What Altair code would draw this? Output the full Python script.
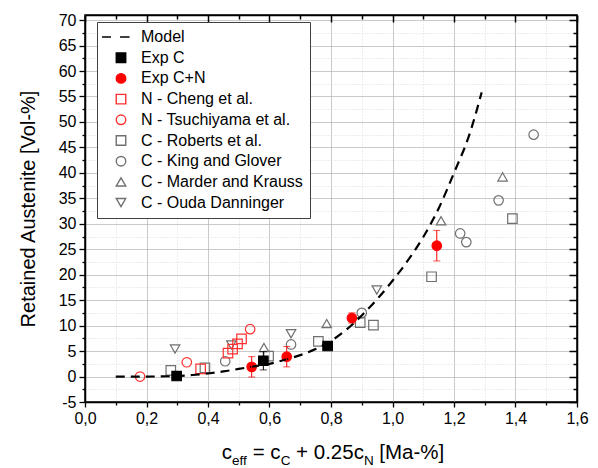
import altair as alt
import pandas as pd

# ---------------- data ----------------
series = ["Model", "Exp C", "Exp C+N", "N - Cheng et al.", "N - Tsuchiyama et al.",
          "C - Roberts et al.", "C - King and Glover", "C - Marder and Krauss",
          "C - Ouda Danninger"]
shape_range = ["M-4,0H-2.1M-0.2,0H1.8", "square", "circle", "square", "circle",
               "square", "circle", "triangle-up", "triangle-down"]
fill_range = ["transparent", "black", "#ff0000", "transparent", "transparent",
              "transparent", "transparent", "transparent", "transparent"]
stroke_range = ["black", "black", "#ff0000", "#ff3030", "#ff3030",
                "#707070", "#707070", "#707070", "#707070"]

model_x = [0.10, 0.20, 0.30, 0.35, 0.40, 0.45, 0.50, 0.55, 0.60, 0.65, 0.70, 0.75,
           0.80, 0.85, 0.90, 0.95, 1.00, 1.05, 1.10, 1.15, 1.20, 1.25, 1.29]
model_y = [0.0, 0.0, 0.1, 0.3, 0.6, 1.0, 1.5, 2.0, 2.5, 3.3, 4.2, 5.4,
           7.0, 9.2, 12.0, 15.2, 18.8, 22.8, 27.4, 33.0, 40.0, 47.5, 55.8]

expc_x = [0.298, 0.580, 0.789]
expc_y = [0.1, 3.1, 6.0]
expc_err = [0.3, 1.8, 0.4]

expcn_x = [0.542, 0.656, 0.868, 1.144]
expcn_y = [1.9, 3.9, 11.5, 25.7]
expcn_err = [2.0, 2.0, 1.0, 3.0]

cheng_x = [0.376, 0.465, 0.480, 0.496, 0.509]
cheng_y = [1.5, 4.6, 5.4, 6.4, 7.4]

tsuchiyama_x = [0.179, 0.331, 0.537]
tsuchiyama_y = [0.0, 2.8, 9.3]

roberts_x = [0.279, 0.390, 0.597, 0.759, 0.895, 0.938, 1.127, 1.390]
roberts_y = [1.2, 1.7, 4.0, 6.9, 10.6, 10.1, 19.6, 31.0]

king_x = [0.456, 0.670, 0.900, 1.220, 1.240, 1.345, 1.459]
king_y = [3.0, 6.3, 12.5, 28.1, 26.4, 34.6, 47.5]

marder_x = [0.582, 0.786, 1.158, 1.358]
marder_y = [5.7, 10.4, 30.6, 39.2]

ouda_x = [0.293, 0.476, 0.670, 0.949]
ouda_y = [5.4, 6.2, 8.4, 17.0]

x_ticks = [round(i * 0.1, 1) for i in range(17)]
y_ticks = [-5 + 2.5 * i for i in range(31)]

# ---------------- tables ----------------
rows = []
for name, xs, ys in [
    ("C - Roberts et al.", roberts_x, roberts_y),
    ("C - King and Glover", king_x, king_y),
    ("C - Marder and Krauss", marder_x, marder_y),
    ("C - Ouda Danninger", ouda_x, ouda_y),
    ("N - Cheng et al.", cheng_x, cheng_y),
    ("N - Tsuchiyama et al.", tsuchiyama_x, tsuchiyama_y),
    ("Exp C", expc_x, expc_y),
    ("Exp C+N", expcn_x, expcn_y),
]:
    for a, b in zip(xs, ys):
        rows.append({"series": name, "x": a, "y": b})
pts = pd.DataFrame(rows)

err_rows = []
for xs, ys, es, col in [(expc_x, expc_y, expc_err, "black"),
                        (expcn_x, expcn_y, expcn_err, "#ff0000")]:
    for a, b, e in zip(xs, ys, es):
        err_rows.append({"x": a, "lo": b - e, "hi": b + e, "col": col})
errs = pd.DataFrame(err_rows)

model = pd.DataFrame({"x": model_x, "y": model_y})

W, H = 492, 387
PAD = {"left": 85, "top": 15, "right": 21, "bottom": 66}

XS = alt.Scale(domain=[0, 1.6], nice=False, zero=False)
YS = alt.Scale(domain=[-5, 71], nice=False, zero=False)

xmaj = "round(datum.value*10) % 2 == 0"
ymaj = "round(datum.value*2) % 2 == 0"

x_axis_main = alt.Axis(
    orient="bottom", values=x_ticks, title=None,
    labelExpr=f"{xmaj} ? replace(format(datum.value, '.1f'), '.', ',') : ''",
    labelFontSize=16, labelPadding=3, labelFlush=False, labelOverlap=False,
    labelColor="black",
    tickSize={"condition": {"test": xmaj, "value": 5}, "value": 3},
    tickColor="black", tickWidth=1.3, domainColor="black", domainWidth=1.5,
    grid=True,
    gridColor={"condition": {"test": xmaj, "value": "#b9b9b9"}, "value": "#dadada"},
    gridDash={"condition": {"test": xmaj, "value": [1, 0]}, "value": [1, 2]},
    gridWidth=1,
)
y_axis_main = alt.Axis(
    orient="left", values=y_ticks, title="Retained Austenite [Vol-%]",
    titleFontSize=20, titleFontWeight="normal", titleColor="black", titlePadding=20,
    labelExpr=f"{ymaj} ? '' + datum.value : ''",
    labelFontSize=16, labelPadding=3, labelFlush=False, labelOverlap=False,
    labelColor="black",
    tickSize={"condition": {"test": ymaj, "value": 6}, "value": 3},
    tickColor="black", tickWidth=1.3, domainColor="black", domainWidth=1.5,
    grid=True,
    gridColor={"condition": {"test": ymaj, "value": "#b9b9b9"}, "value": "#dadada"},
    gridDash={"condition": {"test": ymaj, "value": [1, 0]}, "value": [1, 2]},
    gridWidth=1,
)
x_axis_top = alt.Axis(
    orient="bottom", offset=-H, values=x_ticks, title=None, labels=False, grid=False,
    tickSize={"condition": {"test": xmaj, "value": 7}, "value": 4},
    tickColor="black", tickWidth=1.5, domainColor="black", domainWidth=1.5,
)
y_axis_right = alt.Axis(
    orient="left", offset=-W, values=y_ticks, title=None, labels=False, grid=False,
    tickSize={"condition": {"test": ymaj, "value": 8}, "value": 4},
    tickColor="black", tickWidth=1.5, domainColor="black", domainWidth=1.5,
)

legend = alt.Legend(
    title=None, orient="none", legendX=12, legendY=7,
    labelFontSize=16, labelFont="Liberation Sans", labelColor="black",
    strokeColor="#404040", fillColor="white", padding=7, rowPadding=4.7,
    symbolOffset=9, labelOffset=12, symbolStrokeWidth=1.4, symbolSize=90,
    labelLimit=400,
)

sdom = alt.Scale(domain=series, range=shape_range)
fdom = alt.Scale(domain=series, range=fill_range)
cdom = alt.Scale(domain=series, range=stroke_range)

points = alt.Chart(pts).mark_point(filled=True, opacity=1, size=90, strokeWidth=1.2).encode(
    x=alt.X("x:Q", scale=XS, axis=x_axis_main),
    y=alt.Y("y:Q", scale=YS, axis=y_axis_main),
    shape=alt.Shape("series:N", scale=sdom, legend=legend),
    fill=alt.Fill("series:N", scale=fdom, legend=legend),
    stroke=alt.Stroke("series:N", scale=cdom, legend=legend),
)

line = alt.Chart(model).mark_line(color="black", strokeWidth=2.2, strokeDash=[9, 6],
                                  interpolate="monotone").encode(
    x=alt.X("x:Q", scale=XS, axis=None),
    y=alt.Y("y:Q", scale=YS, axis=None),
)

err_rule = alt.Chart(errs).mark_rule(strokeWidth=1).encode(
    x=alt.X("x:Q", scale=XS, axis=None),
    y=alt.Y("lo:Q", scale=YS, axis=None),
    y2="hi:Q",
    color=alt.Color("col:N", scale=None),
)
cap_lo = alt.Chart(errs).mark_tick(orient="horizontal", size=7, thickness=1).encode(
    x=alt.X("x:Q", scale=XS, axis=None),
    y=alt.Y("lo:Q", scale=YS, axis=None),
    color=alt.Color("col:N", scale=None),
)
cap_hi = alt.Chart(errs).mark_tick(orient="horizontal", size=7, thickness=1).encode(
    x=alt.X("x:Q", scale=XS, axis=None),
    y=alt.Y("hi:Q", scale=YS, axis=None),
    color=alt.Color("col:N", scale=None),
)

frame_df = pd.DataFrame({"x": [0.0], "y": [0.0]})
top_axis = alt.Chart(frame_df).mark_point(opacity=0).encode(
    x=alt.X("x:Q", scale=XS, axis=x_axis_top),
    y=alt.Y("y:Q", scale=YS, axis=None),
)
right_axis = alt.Chart(frame_df).mark_point(opacity=0).encode(
    x=alt.X("x:Q", scale=XS, axis=None),
    y=alt.Y("y:Q", scale=YS, axis=y_axis_right),
)

# x-axis title with subscripts: pieces laid out left to right.
# (lead = number of leading space widths; spaces are not put in the text
#  because leading whitespace is trimmed by the renderer)
AW = {"c": .5, "e": .556, "f": .278, " ": .278, "=": .584, "C": .722, "+": .584,
      "0": .556, ".": .278, "2": .556, "5": .556, "N": .722, "[": .278, "M": .833,
      "a": .556, "-": .333, "%": .889, "]": .278}
FM, FS = 20.5, 13.5
pieces = [("c", False, 0), ("eff", True, 0), ("= c", False, 1), ("C", True, 0),
          ("+ 0.25c", False, 1), ("N", True, 0), ("[Ma-%]", False, 1)]
total = 0
for t, s, lead in pieces:
    fs = FS if s else FM
    total += lead * AW[" "] * FM + sum(AW[ch] for ch in t) * fs
cx = 333 - PAD["left"]
xpos = cx - total / 2
trows = []
for t, s, lead in pieces:
    fs = FS if s else FM
    xpos += lead * AW[" "] * FM
    trows.append({"t": t, "px": xpos, "py": (450 if s else 444), "sub": s})
    xpos += sum(AW[ch] for ch in t) * fs
tdf = pd.DataFrame(trows)

t_main = alt.Chart(tdf[~tdf["sub"]]).mark_text(
    align="left", baseline="alphabetic", fontSize=FM, font="Liberation Sans", color="black"
).encode(x=alt.X("px:Q", scale=None, axis=None), y=alt.Y("py:Q", scale=None, axis=None),
         text="t:N")
t_sub = alt.Chart(tdf[tdf["sub"]]).mark_text(
    align="left", baseline="alphabetic", fontSize=FS, font="Liberation Sans", color="black"
).encode(x=alt.X("px:Q", scale=None, axis=None), y=alt.Y("py:Q", scale=None, axis=None),
         text="t:N")

chart = alt.layer(
    points, top_axis, right_axis, line, err_rule, cap_lo, cap_hi, t_main, t_sub
).resolve_axis(
    x="independent", y="independent"
).properties(
    width=W, height=H, padding=PAD,
    autosize=alt.AutoSizeParams(type="none"),
    background="white",
).configure(
    font="Liberation Sans",
).configure_view(
    stroke="black", strokeWidth=1.5,
)

chart.save("out.html", embed_options={"renderer": "svg", "actions": False})
